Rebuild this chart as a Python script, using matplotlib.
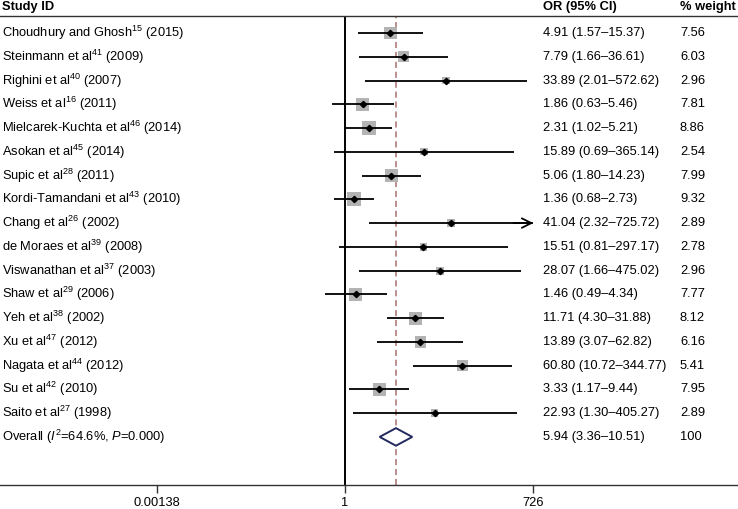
import numpy as np
import matplotlib
matplotlib.use("Agg")
import matplotlib.pyplot as plt
from matplotlib.transforms import blended_transform_factory
from matplotlib.patches import FancyArrowPatch

plt.rcParams['font.family'] = ['Liberation Sans', 'DejaVu Sans']
plt.rcParams['mathtext.fontset'] = 'custom'
plt.rcParams['mathtext.rm'] = 'Liberation Sans'
plt.rcParams['mathtext.it'] = 'Liberation Sans:italic'
plt.rcParams['mathtext.bf'] = 'Liberation Sans:bold'

# ---- data ----
authors = ["Choudhury and Ghosh", "Steinmann et al", "Righini et al", "Weiss et al",
           "Mielcarek-Kuchta et al", "Asokan et al", "Supic et al", "Kordi-Tamandani et al",
           "Chang et al", "de Moraes et al", "Viswanathan et al", "Shaw et al",
           "Yeh et al", "Xu et al", "Nagata et al", "Su et al", "Saito et al"]
refs = ["15", "41", "40", "16", "46", "45", "28", "43", "26", "39", "37", "29",
        "38", "47", "44", "42", "27"]
years = ["2015", "2009", "2007", "2011", "2014", "2014", "2011", "2010", "2002",
         "2008", "2003", "2006", "2002", "2012", "2012", "2010", "1998"]
or_vals = [4.91, 7.79, 33.89, 1.86, 2.31, 15.89, 5.06, 1.36, 41.04, 15.51, 28.07,
           1.46, 11.71, 13.89, 60.80, 3.33, 22.93]
ci_low = [1.57, 1.66, 2.01, 0.63, 1.02, 0.69, 1.80, 0.68, 2.32, 0.81, 1.66,
          0.49, 4.30, 3.07, 10.72, 1.17, 1.30]
ci_high = [15.37, 36.61, 572.62, 5.46, 5.21, 365.14, 14.23, 2.73, 725.72, 297.17,
           475.02, 4.34, 31.88, 62.82, 344.77, 9.44, 405.27]
weights = ["7.56", "6.03", "2.96", "7.81", "8.86", "2.54", "7.99", "9.32", "2.89",
           "2.78", "2.96", "7.77", "8.12", "6.16", "5.41", "7.95", "2.89"]
overall_or = 5.94
overall_low = 3.36
overall_high = 10.51
overall_weight = "100"
overall_label = r"Overall ($\mathit{I}^{\mathrm{2}}$=64.6%, $\mathit{P}$=0.000)"
tick_vals = [0.00138, 1, 726]
tick_labels = ["0.00138", "1", "726"]

# ---- figure ----
W, H = 738, 509
fig = plt.figure(figsize=(W / 100, H / 100), dpi=100)
ax_bottom = (H - 484.5) / H
ax_top = (H - 16) / H
ax = fig.add_axes([0, ax_bottom, 1, ax_top - ax_bottom])
ax.set_xscale('log')

pxr = 28.59  # pixels per ln unit
x0px = 345.0
ax.set_xlim(np.exp(-x0px / pxr), np.exp((W - x0px) / pxr))

row_h = 23.76
y_first = 33.0
n = len(authors)
ax.set_ylim(1 + (484.5 - y_first) / row_h, 1 + (16 - y_first) / row_h)

fs = 9.3
trans = blended_transform_factory(ax.transAxes, ax.transData)
rows = np.arange(1, n + 1)
wts = np.array([float(w) for w in weights])
max_w = wts.max()

# CIs reaching the edge of the plotted range (726) get an arrowhead
arrow_limit = tick_vals[-1] * 0.99

# null line and overall dashed line
ax.axvline(1, color='black', lw=1.4, zorder=2)
ax.axvline(overall_or, color='#a87070', lw=1.1, ls=(0, (4, 2.5)), zorder=1)

for r, a, ref, yr, o, lo, hi, w in zip(rows, authors, refs, years, or_vals,
                                        ci_low, ci_high, weights):
    side_px = 14.0 * np.sqrt(float(w) / max_w)
    side_pt = side_px * 0.72
    ax.scatter([o], [r], marker='s', s=side_pt ** 2, color='#b3b3b3',
               edgecolors='none', zorder=3)
    ax.plot([lo, hi], [r, r], color='black', lw=1.3, zorder=4,
            solid_capstyle='butt')
    if hi >= arrow_limit:
        arr = FancyArrowPatch((hi / 2.0, r), (hi, r), arrowstyle='->',
                              mutation_scale=17, lw=1.3, color='black',
                              shrinkA=0, shrinkB=0, transform=ax.transData,
                              zorder=4)
        ax.add_patch(arr)
    ax.plot([o], [r], marker='D', ms=3.2, color='black', zorder=5)
    ax.text(2 / W, r, f"{a}$^{{\\mathrm{{{ref}}}}}$ ({yr})", transform=trans,
            fontsize=fs, va='center', ha='left')
    ax.text(543 / W, r, f"{o:.2f} ({lo:.2f}\u2013{hi:.2f})", transform=trans,
            fontsize=fs, va='center', ha='left')
    ax.text(680 / W, r, w, transform=trans, fontsize=fs, va='center', ha='left')

# overall
ro = n + 1
dh = 0.37
ax.fill([overall_low, overall_or, overall_high, overall_or, overall_low],
        [ro, ro - dh, ro, ro + dh, ro], facecolor='white', edgecolor='#23295e',
        lw=1.4, zorder=5)
ax.text(2 / W, ro, overall_label, transform=trans, fontsize=fs, va='center', ha='left')
ax.text(543 / W, ro, f"{overall_or:.2f} ({overall_low:.2f}\u2013{overall_high:.2f})",
        transform=trans, fontsize=fs, va='center', ha='left')
ax.text(680 / W, ro, overall_weight, transform=trans, fontsize=fs, va='center', ha='left')

# headers
yh = 1 + (7 - y_first) / row_h
ax.text(2 / W, yh, "Study ID", transform=trans, fontsize=fs, fontweight='bold',
        va='center', ha='left', clip_on=False)
ax.text(543 / W, yh, "OR (95% CI)", transform=trans, fontsize=fs, fontweight='bold',
        va='center', ha='left', clip_on=False)
ax.text(680 / W, yh, "% weight", transform=trans, fontsize=fs, fontweight='bold',
        va='center', ha='left', clip_on=False)

# axes styling
for s in ['left', 'right']:
    ax.spines[s].set_visible(False)
for s in ['top', 'bottom']:
    ax.spines[s].set_color('#333333')
    ax.spines[s].set_linewidth(1.0)
ax.set_yticks([])
ax.set_xticks(tick_vals)
ax.set_xticklabels(tick_labels)
ax.xaxis.set_minor_locator(matplotlib.ticker.NullLocator())
ax.tick_params(axis='x', direction='out', length=5.5, width=1.0, color='#333333',
               labelsize=fs, pad=3.2)

fig.savefig("out.png", dpi=100)
